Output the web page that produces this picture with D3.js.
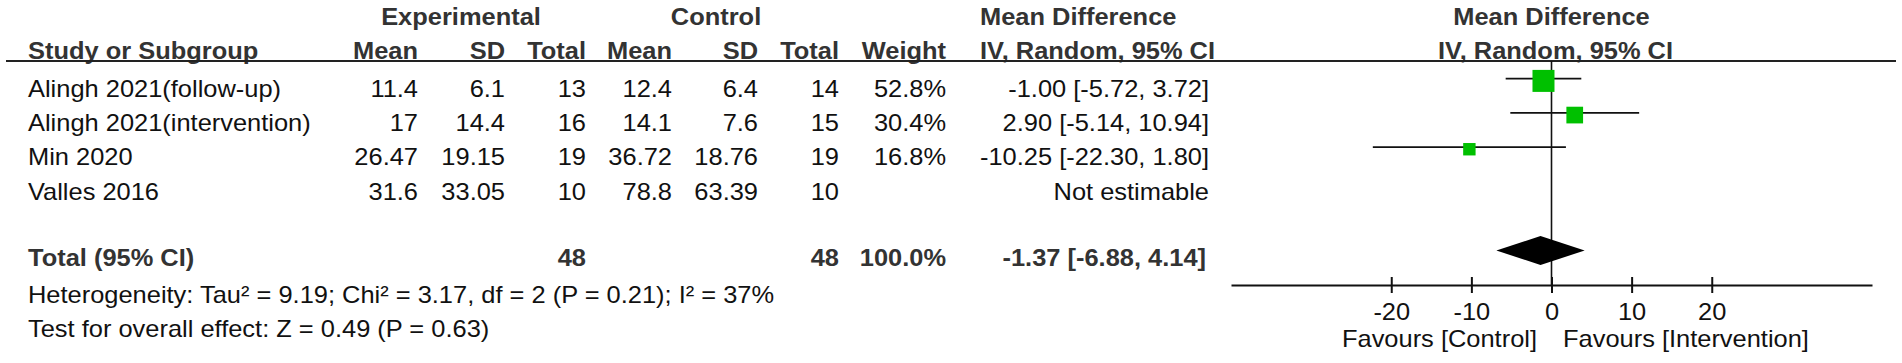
<!DOCTYPE html>
<html>
<head>
<meta charset="utf-8">
<script src="https://cdn.jsdelivr.net/npm/d3@7"></script>
<style>
  html, body { margin: 0; padding: 0; background: #fff; }
  svg { display: block; }
  text { font-family: "Liberation Sans", Arial, sans-serif; font-size: 24px; }
</style>
</head>
<body>
<div id="chart"></div>
<script>
// ---------- data ----------
const studies   = ["Alingh 2021(follow-up)", "Alingh 2021(intervention)", "Min 2020", "Valles 2016"];
const expMean   = ["11.4", "17", "26.47", "31.6"];
const expSD     = ["6.1", "14.4", "19.15", "33.05"];
const expTotal  = [13, 16, 19, 10];
const ctlMean   = ["12.4", "14.1", "36.72", "78.8"];
const ctlSD     = ["6.4", "7.6", "18.76", "63.39"];
const ctlTotal  = [14, 15, 19, 10];
const weights   = [52.8, 30.4, 16.8, null];
const md        = [-1.00, 2.90, -10.25, null];
const ciLow     = [-5.72, -5.14, -22.30, null];
const ciHigh    = [3.72, 10.94, 1.80, null];

const totalLabel   = "Total (95% CI)";
const totalExpN    = 48;
const totalCtlN    = 48;
const totalWeight  = 100.0;
const totalMD      = -1.37;
const totalLow     = -6.88;
const totalHigh    = 4.14;

const heterogeneity = "Heterogeneity: Tau² = 9.19; Chi² = 3.17, df = 2 (P = 0.21); I² = 37%";
const overallEffect = "Test for overall effect: Z = 0.49 (P = 0.63)";

const axisTicks   = [-20, -10, 0, 10, 20];
const axisDomain  = [-40, 40];
const favourLeft  = "Favours [Control]";
const favourRight = "Favours [Intervention]";

// ---------- layout ----------
const W = 1902, H = 363;
const SX = 1.06;           // horizontal stretch of the reference lettering
const GREEN = "#00c000";

const svg = d3.select("#chart").append("svg")
  .attr("width", W).attr("height", H);
svg.append("rect").attr("width", W).attr("height", H).attr("fill", "#fff");

function txt(x, y, s, anchor = "start", bold = false) {
  return svg.append("text")
    .attr("transform", `translate(${x},${y}) scale(${SX},1)`)
    .attr("text-anchor", anchor)
    .attr("font-weight", bold ? "bold" : "normal")
    .attr("fill", bold ? "#333" : "#111")
    .text(s);
}

const fmt = v => v.toFixed(2);
const ciText = (m, l, h) => `${fmt(m)} [${fmt(l)}, ${fmt(h)}]`;

// column right edges
const col = {
  study: 28, eMean: 418, eSD: 505, eTot: 586, cMean: 672,
  cSD: 758, cTot: 839, weight: 946, ci: 1209
};

// header
const yGroup = 25, yHead = 58.5;
txt(461, yGroup, "Experimental", "middle", true);
txt(716, yGroup, "Control", "middle", true);
txt(980, yGroup, "Mean Difference", "start", true);
txt(col.study, yHead, "Study or Subgroup", "start", true);
txt(col.eMean, yHead, "Mean", "end", true);
txt(col.eSD, yHead, "SD", "end", true);
txt(col.eTot, yHead, "Total", "end", true);
txt(col.cMean, yHead, "Mean", "end", true);
txt(col.cSD, yHead, "SD", "end", true);
txt(col.cTot, yHead, "Total", "end", true);
txt(col.weight, yHead, "Weight", "end", true);
txt(980, yHead, "IV, Random, 95% CI", "start", true);

// forest scale
const x = d3.scaleLinear().domain(axisDomain).range([1231, 1872]);
txt(x(0), yGroup, "Mean Difference", "middle", true);
txt(x(0) + 4, yHead, "IV, Random, 95% CI", "middle", true);

// header rule
svg.append("line").attr("x1", 6).attr("x2", 1896).attr("y1", 61).attr("y2", 61)
  .attr("stroke", "#222").attr("stroke-width", 2);

// rows
const y = d3.scaleLinear().domain([0, studies.length - 1]).range([97, 199.5]);
studies.forEach((s, i) => {
  const yy = y(i);
  txt(col.study, yy, s, "start");
  txt(col.eMean, yy, expMean[i], "end");
  txt(col.eSD, yy, expSD[i], "end");
  txt(col.eTot, yy, expTotal[i], "end");
  txt(col.cMean, yy, ctlMean[i], "end");
  txt(col.cSD, yy, ctlSD[i], "end");
  txt(col.cTot, yy, ctlTotal[i], "end");
  if (weights[i] != null) txt(col.weight, yy, weights[i].toFixed(1) + "%", "end");
  txt(col.ci, yy, md[i] != null ? ciText(md[i], ciLow[i], ciHigh[i]) : "Not estimable", "end");
});

// total row
const yTot = 266;
txt(col.study, yTot, totalLabel, "start", true);
txt(col.eTot, yTot, totalExpN, "end", true);
txt(col.cTot, yTot, totalCtlN, "end", true);
txt(col.weight, yTot, totalWeight.toFixed(1) + "%", "end", true);
txt(col.ci - 3, yTot, ciText(totalMD, totalLow, totalHigh), "end", true);

txt(col.study, 303, heterogeneity, "start");
txt(col.study, 337, overallEffect, "start");

// forest plot
const axisY = 285;
const size = d3.scaleSqrt().domain([0, d3.max(weights)]).range([0, 22]);

// zero line
svg.append("line").attr("x1", x(0)).attr("x2", x(0)).attr("y1", 61).attr("y2", axisY)
  .attr("stroke", "#111").attr("stroke-width", 1.6);

studies.forEach((s, i) => {
  if (md[i] == null) return;
  const ly = y(i) - 18.3;
  svg.append("line").attr("x1", x(ciLow[i])).attr("x2", x(ciHigh[i]))
    .attr("y1", ly).attr("y2", ly).attr("stroke", "#111").attr("stroke-width", 1.8);
  const sz = size(weights[i]);
  svg.append("rect").attr("x", x(md[i]) - sz / 2).attr("y", ly + 2.2 - sz / 2)
    .attr("width", sz).attr("height", sz).attr("fill", GREEN);
});

// diamond
const dy = 250.5, dh = 14.5;
svg.append("path")
  .attr("d", `M${x(totalLow)},${dy} L${x(totalMD)},${dy - dh} L${x(totalHigh)},${dy} L${x(totalMD)},${dy + dh} Z`)
  .attr("fill", "#000");

// axis
const axis = d3.axisBottom(x).tickValues(axisTicks).tickSizeOuter(0).tickSizeInner(8)
  .tickFormat(d => String(d));
const ag = svg.append("g").attr("transform", `translate(0,${axisY})`).call(axis);
ag.select(".domain").attr("stroke", "#111").attr("stroke-width", 2.2);
ag.selectAll(".tick line").attr("y1", -8).attr("y2", 8).attr("stroke", "#111").attr("stroke-width", 2);
ag.selectAll(".tick text")
  .attr("y", 35).attr("dy", 0)
  .attr("transform", `scale(${SX},1)`)
  .attr("fill", "#111")
  .style("font-family", '"Liberation Sans", Arial, sans-serif')
  .style("font-size", "24px");

txt(1537, 347, favourLeft, "end");
txt(1563, 347, favourRight, "start");
</script>
</body>
</html>
